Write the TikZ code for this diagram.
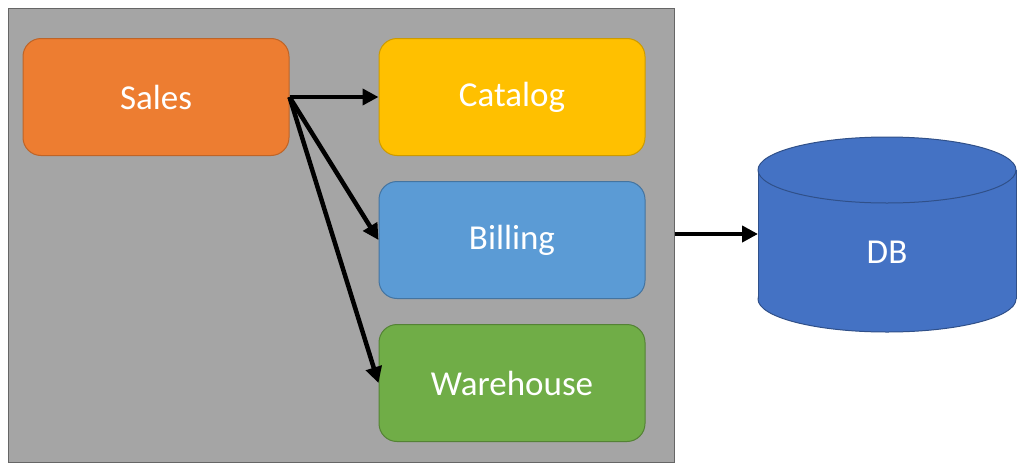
\documentclass[tikz,border=0pt]{standalone}
\usepackage{fontspec}
\setmainfont{Carlito}
\usetikzlibrary{arrows.meta}
\definecolor{panelgray}{HTML}{A5A5A5}
\definecolor{salesorange}{HTML}{ED7D31}
\definecolor{catalogyellow}{HTML}{FFC000}
\definecolor{billingblue}{HTML}{5B9BD5}
\definecolor{warehousegreen}{HTML}{70AD47}
\definecolor{dbblue}{HTML}{4472C4}
\tikzset{
  svc/.style={rounded corners=18pt, line width=1pt, minimum width=266pt,
    minimum height=117pt, text=white, font=\fontsize{35}{40}\selectfont},
  link/.style={line width=4.5pt, -{Triangle[length=16pt,width=16pt]}}
}

\begin{document}
\begin{tikzpicture}[x=1pt,y=-1pt]
\useasboundingbox (0,0) rectangle (1024,471);

% the application
\node[draw=gray!80!black, fill=panelgray, line width=1pt,
  minimum width=666pt, minimum height=454pt] (app) at (341,235) {};

\node[svc, fill=salesorange, draw=salesorange!80!black] (sales) at (156,97) {Sales};
\node[svc, fill=catalogyellow, draw=catalogyellow!80!black] (catalog) at (512,97) {Catalog};
\node[svc, fill=billingblue, draw=billingblue!75!black] (billing) at (512,240) {Billing};
\node[svc, fill=warehousegreen, draw=warehousegreen!75!black] (warehouse) at (512,383) {Warehouse};

% the database
\begin{scope}[line width=1pt, draw=dbblue!70!black, fill=dbblue]
\filldraw (887,299) ellipse [x radius=129, y radius=33];
\fill (758,170) rectangle (1016,299);
\draw (758,170) -- (758,299);
\draw (1016,170) -- (1016,299);
\filldraw (887,170) ellipse [x radius=129, y radius=33];
\end{scope}
\coordinate (dbin) at (758,234);
\node[text=white, font=\fontsize{35}{40}\selectfont] (db) at (887,252) {DB};

\draw[link] (sales.east) -- (catalog.west);
\draw[link] (sales.east) -- (billing.west);
\draw[link] (sales.east) -- (warehouse.west);
\draw[link] (app.east |- dbin) -- (dbin);
\end{tikzpicture}
\end{document}
